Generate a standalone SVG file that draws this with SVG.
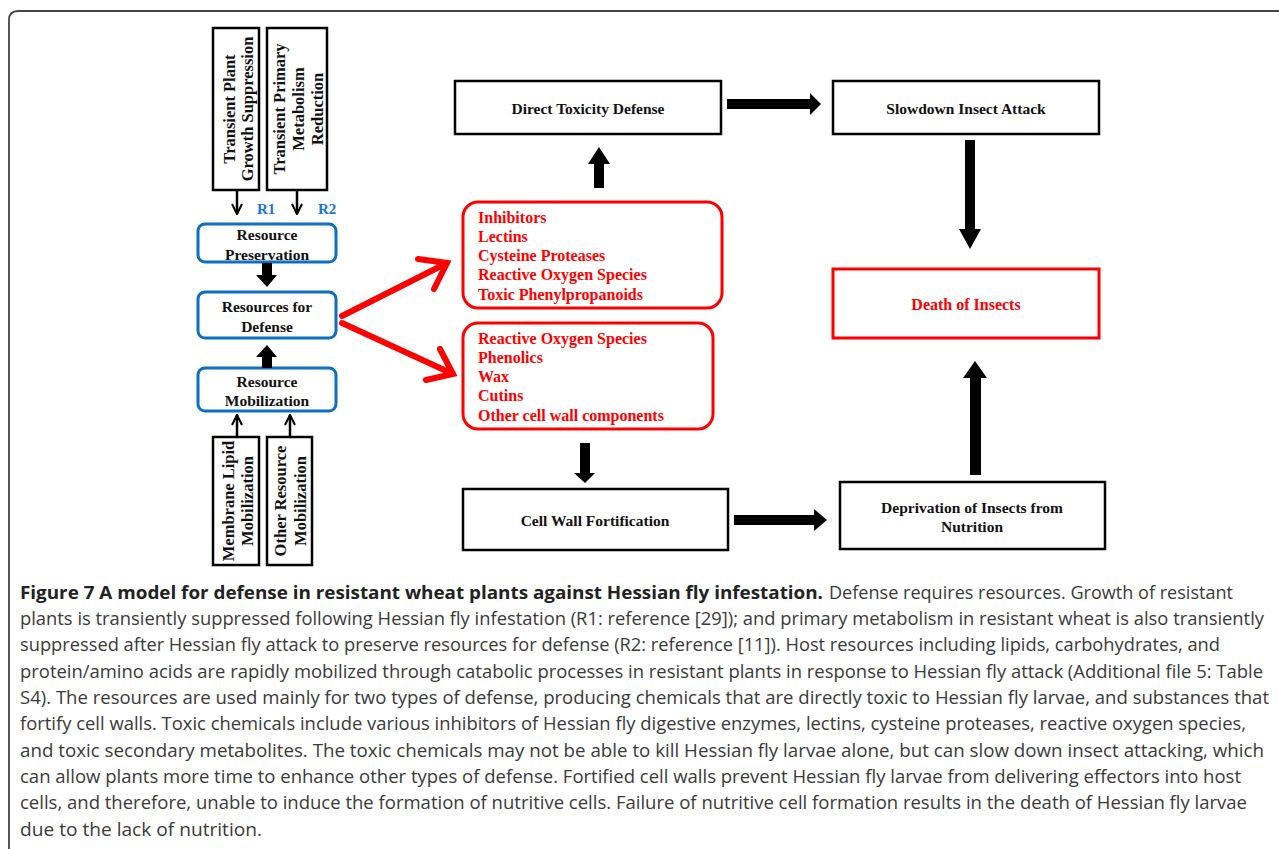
<svg xmlns="http://www.w3.org/2000/svg" width="1279" height="849" viewBox="0 0 1279 849">
<style>
.bx{fill:#fff;stroke:#000;stroke-width:2.5}
.bb{fill:#fff;stroke:#0b6fc2;stroke-width:3}
.rb{fill:#fff;stroke:#ff0000;stroke-width:3}
.t{font-family:"Liberation Serif","Times New Roman",serif;font-weight:bold;font-size:15.5px;fill:#111}
.tc{text-anchor:middle}
.tr{font-family:"Liberation Serif","Times New Roman",serif;font-weight:bold;font-size:16px;fill:#ff0000}
.tv{font-family:"Liberation Serif","Times New Roman",serif;font-weight:bold;font-size:16.5px;fill:#111;text-anchor:middle}
.tb{font-family:"Liberation Serif","Times New Roman",serif;font-weight:bold;font-size:15px;fill:#1a73e0}
.thin{stroke:#000;stroke-width:2.5;fill:none}
.red{stroke:#ff0000;stroke-width:6;fill:none;stroke-linecap:round;stroke-linejoin:miter}
.blk{fill:#000}
.cap{font-family:"Open Sans","Noto Sans","Liberation Sans",sans-serif;font-size:18px;fill:#3a3a3a}
.capb{font-family:"Open Sans","Noto Sans","Liberation Sans",sans-serif;font-size:18px;font-weight:bold;fill:#222}
</style>
<defs>
<marker id="ch" viewBox="0 0 10 10" refX="9" refY="5" markerWidth="5" markerHeight="5" orient="auto" markerUnits="strokeWidth">
<path d="M1,1 L9,5 L1,9" fill="none" stroke="#000" stroke-width="1.6"/>
</marker>
</defs>
<rect width="1279" height="849" fill="#fff"/>
<path d="M9,849 V20 Q9,11 18,11 H1279" fill="none" stroke="#444" stroke-width="1.8"/>

<g id="n-growth">
<rect class="bx" x="213" y="28" width="46" height="162" stroke-width="2"/>
<g transform="translate(236,109) rotate(-90)">
<text class="tv" x="0" y="-1.5">Transient Plant</text>
<text class="tv" x="0" y="16.5">Growth Suppression</text>
</g>
</g>
<g id="n-primary">
<rect class="bx" x="267" y="28" width="60" height="162" stroke-width="2"/>
<g transform="translate(297,109) rotate(-90)">
<text class="tv" x="0" y="-12.5">Transient Primary</text>
<text class="tv" x="0" y="6.5">Metabolism</text>
<text class="tv" x="0" y="25.5">Reduction</text>
</g>
</g>
<g id="n-membrane">
<rect class="bx" x="213" y="437" width="46" height="128" stroke-width="2"/>
<g transform="translate(236,501) rotate(-90)">
<text class="tv" x="0" y="-2.5">Membrane Lipid</text>
<text class="tv" x="0" y="16.5">Mobilization</text>
</g>
</g>
<g id="n-other">
<rect class="bx" x="267" y="437" width="45" height="128" stroke-width="2"/>
<g transform="translate(290,501) rotate(-90)">
<text class="tv" x="0" y="-4.5">Other Resource</text>
<text class="tv" x="0" y="15.5">Mobilization</text>
</g>
</g>

<g id="n-preservation">
<rect class="bb" x="198" y="224" width="138" height="38" rx="7"/>
<text class="t tc" x="267" y="240">Resource</text>
<text class="t tc" x="267" y="260">Preservation</text>
</g>
<g id="n-defense">
<rect class="bb" x="198" y="292" width="138" height="46" rx="7"/>
<text class="t tc" x="267" y="312">Resources for</text>
<text class="t tc" x="267" y="332">Defense</text>
</g>
<g id="n-mobilization">
<rect class="bb" x="198" y="368" width="138" height="43" rx="7"/>
<text class="t tc" x="267" y="387">Resource</text>
<text class="t tc" x="267" y="406">Mobilization</text>
</g>

<g id="n-toxic-list">
<rect class="rb" x="463" y="202" width="259" height="106" rx="15"/>
<text class="tr" x="478" y="223">Inhibitors</text>
<text class="tr" x="478" y="242">Lectins</text>
<text class="tr" x="478" y="261">Cysteine Proteases</text>
<text class="tr" x="478" y="280">Reactive Oxygen Species</text>
<text class="tr" x="478" y="300">Toxic Phenylpropanoids</text>
</g>
<g id="n-wall-list">
<rect class="rb" x="463" y="323" width="250" height="106" rx="15"/>
<text class="tr" x="478" y="344">Reactive Oxygen Species</text>
<text class="tr" x="478" y="363">Phenolics</text>
<text class="tr" x="478" y="382">Wax</text>
<text class="tr" x="478" y="401">Cutins</text>
<text class="tr" x="478" y="421">Other cell wall components</text>
</g>

<g id="n-direct">
<rect class="bx" x="455" y="81" width="266" height="53"/>
<text class="t tc" x="588" y="114">Direct Toxicity Defense</text>
</g>
<g id="n-slowdown">
<rect class="bx" x="833" y="81" width="266" height="53"/>
<text class="t tc" x="966" y="114">Slowdown Insect Attack</text>
</g>
<g id="n-death">
<rect class="rb" x="833" y="269" width="266" height="69"/>
<text class="t tc" x="966" y="310" style="fill:#ff0000;font-size:16px">Death of Insects</text>
</g>
<g id="n-cellwall">
<rect class="bx" x="463" y="489" width="265" height="61"/>
<text class="t tc" x="595" y="526">Cell Wall Fortification</text>
</g>
<g id="n-deprivation">
<rect class="bx" x="840" y="482" width="265" height="67"/>
<text class="t tc" x="972" y="513">Deprivation of Insects from</text>
<text class="t tc" x="972" y="532">Nutrition</text>
</g>

<g id="connectors">
<line class="thin" x1="237" y1="190" x2="237" y2="214" marker-end="url(#ch)"/>
<line class="thin" x1="297" y1="190" x2="297" y2="214" marker-end="url(#ch)"/>
<line class="thin" x1="237" y1="437" x2="237" y2="415" marker-end="url(#ch)"/>
<line class="thin" x1="290" y1="437" x2="290" y2="415" marker-end="url(#ch)"/>
<text class="tb" x="257" y="214">R1</text>
<text class="tb" x="318" y="214">R2</text>
<polygon class="blk" points="262,263 272,263 272,275 277,275 267,287 256,275 262,275"/>
<polygon class="blk" points="262,368 272,368 272,357 277,357 267,345 256,357 262,357"/>
<path class="red" d="M342,316 L447,263 M418,259 L447,263 L434,289"/>
<path class="red" d="M342,323 L453,374 M440,349 L453,374 L426,380"/>
<polygon class="blk" points="594,188 604,188 604,164 610,164 599,147 588,164 594,164"/>
<polygon class="blk" points="727,99 810,99 810,93 821,104 810,115 810,109 727,109"/>
<polygon class="blk" points="965,140 975,140 975,229 981,229 970,249 959,229 965,229"/>
<polygon class="blk" points="580,443 590,443 590,473 595,473 585,483 574,473 580,473"/>
<polygon class="blk" points="734,515 814,515 814,509 827,520 814,531 814,525 734,525"/>
<polygon class="blk" points="970,475 981,475 981,378 987,378 975,361 963,378 970,378"/>
</g>

<g id="caption">
<text class="capb" x="20" y="599" textLength="803" lengthAdjust="spacingAndGlyphs">Figure 7 A model for defense in resistant wheat plants against Hessian fly infestation.</text>
<text class="cap" x="829" y="599" textLength="404" lengthAdjust="spacingAndGlyphs">Defense requires resources. Growth of resistant</text>
<text class="cap" x="20" y="625" textLength="1244" lengthAdjust="spacingAndGlyphs">plants is transiently suppressed following Hessian fly infestation (R1: reference [29]); and primary metabolism in resistant wheat is also transiently</text>
<text class="cap" x="20" y="651" textLength="1200" lengthAdjust="spacingAndGlyphs">suppressed after Hessian fly attack to preserve resources for defense (R2: reference [11]). Host resources including lipids, carbohydrates, and</text>
<text class="cap" x="20" y="678" textLength="1243" lengthAdjust="spacingAndGlyphs">protein/amino acids are rapidly mobilized through catabolic processes in resistant plants in response to Hessian fly attack (Additional file 5: Table</text>
<text class="cap" x="20" y="704" textLength="1249" lengthAdjust="spacingAndGlyphs">S4). The resources are used mainly for two types of defense, producing chemicals that are directly toxic to Hessian fly larvae, and substances that</text>
<text class="cap" x="20" y="730" textLength="1226" lengthAdjust="spacingAndGlyphs">fortify cell walls. Toxic chemicals include various inhibitors of Hessian fly digestive enzymes, lectins, cysteine proteases, reactive oxygen species,</text>
<text class="cap" x="20" y="757" textLength="1244" lengthAdjust="spacingAndGlyphs">and toxic secondary metabolites. The toxic chemicals may not be able to kill Hessian fly larvae alone, but can slow down insect attacking, which</text>
<text class="cap" x="20" y="783" textLength="1221" lengthAdjust="spacingAndGlyphs">can allow plants more time to enhance other types of defense. Fortified cell walls prevent Hessian fly larvae from delivering effectors into host</text>
<text class="cap" x="20" y="809" textLength="1227" lengthAdjust="spacingAndGlyphs">cells, and therefore, unable to induce the formation of nutritive cells. Failure of nutritive cell formation results in the death of Hessian fly larvae</text>
<text class="cap" x="20" y="836" textLength="242" lengthAdjust="spacingAndGlyphs">due to the lack of nutrition.</text>
</g>
</svg>
